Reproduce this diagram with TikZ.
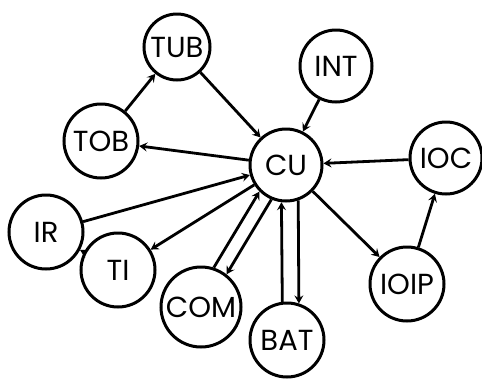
\documentclass[tikz,border=0pt]{standalone}
\usepackage{fontspec}
\setmainfont{Poppins}
\usetikzlibrary{arrows.meta}
\tikzset{
  unit/.style={circle, draw, line width=3pt, inner sep=0pt,
    font=\fontsize{29}{29}\selectfont},
  link/.style={line width=2.8pt, -{Stealth[length=8pt,width=9pt,inset=3pt]}}
}
\begin{document}
\begin{tikzpicture}[x=1pt,y=-1pt]
\useasboundingbox (0,0) rectangle (482,378);
% units
\node[unit, minimum size=66pt] (TUB)  at (177,47)  {TUB};
\node[unit, minimum size=72pt] (INT)  at (336,66)  {INT};
\node[unit, minimum size=72pt] (CU)   at (286,165) {CU};
\node[unit, minimum size=74pt] (TOB)  at (101,141) {TOB};
\node[unit, minimum size=72pt] (IOC)  at (446,158) {IOC};
\node[unit, minimum size=74pt] (IR)   at (46,232)  {IR};
\node[unit, minimum size=74pt] (TI)   at (118,270) {TI};
\node[unit, minimum size=80pt] (COM)  at (201,307) {COM};
\node[unit, minimum size=74pt] (BAT)  at (287,340) {BAT};
\node[unit, minimum size=74pt] (IOIP) at (407,284) {IOIP};
% connections
\draw[link] (TOB) -- (TUB);
\draw[link] (TUB) -- (CU);
\draw[link] (INT) -- (CU);
\draw[link] (CU) -- (TOB);
\draw[link] (IR) -- (CU);
\draw[link] (CU) -- (TI);
\draw[link] (TI) -- (IR);
\draw[link] (COM.72) -- (CU.225);
\draw[link] (CU.247) -- (COM.52);
\draw[link] (BAT.97) -- (CU.263);
\draw[link] (CU.289) -- (BAT.72);
\draw[link] (CU) -- (IOIP);
\draw[link] (IOIP) -- (IOC);
\draw[link] (IOC) -- (CU);
\end{tikzpicture}
\end{document}
